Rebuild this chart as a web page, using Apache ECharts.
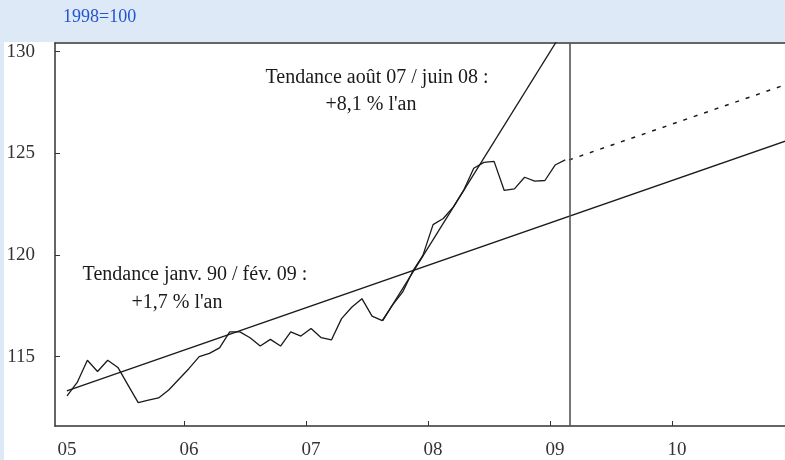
<!DOCTYPE html>
<html>
<head>
<meta charset="utf-8">
<script src="https://cdn.jsdelivr.net/npm/echarts@6/dist/echarts.min.js"></script>
<style>
  html, body { margin: 0; padding: 0; background: #dde9f7; }
  #panel { position: absolute; left: 4px; top: 42px; width: 781px; height: 418px; background: #fff; }
  #chart { position: absolute; left: 0; top: 0; width: 785px; height: 460px; }
</style>
</head>
<body>
<div id="panel"></div>
<div id="chart"></div>
<script>
// indice mensuel, base 1998=100
const months = [
  '2005-01', '2005-02', '2005-03', '2005-04', '2005-05', '2005-06',
  '2005-07', '2005-08', '2005-09', '2005-10', '2005-11', '2005-12',
  '2006-01', '2006-02', '2006-03', '2006-04', '2006-05', '2006-06',
  '2006-07', '2006-08', '2006-09', '2006-10', '2006-11', '2006-12',
  '2007-01', '2007-02', '2007-03', '2007-04', '2007-05', '2007-06',
  '2007-07', '2007-08', '2007-09', '2007-10', '2007-11', '2007-12',
  '2008-01', '2008-02', '2008-03', '2008-04', '2008-05', '2008-06',
  '2008-07', '2008-08', '2008-09', '2008-10', '2008-11', '2008-12',
  '2009-01', '2009-02'
];
const indexValues = [
  113.07, 113.73, 114.82, 114.27, 114.82, 114.47,
  113.60, 112.74, 112.86, 112.97, 113.36, 113.89,
  114.42, 115.00, 115.16, 115.43, 116.22, 116.22,
  115.93, 115.52, 115.85, 115.52, 116.22, 116.01,
  116.38, 115.93, 115.82, 116.87, 117.43, 117.85,
  116.99, 116.77, 117.53, 118.17, 119.20, 119.98,
  121.49, 121.79, 122.36, 123.17, 124.26, 124.55,
  124.60, 123.17, 123.25, 123.82, 123.63, 123.66,
  124.42, 124.67
];
// tendances (annee decimale, valeur)
const trendLong = [[2005.04, 113.32], [2010.93, 125.60]];
const trendShort = [[2007.629, 116.77], [2009.10, 130.95]];
const projection = [[2009.156, 124.67], [2010.93, 128.37]];
const cutDate = 2009.156;

const xLabels = [2005, 2006, 2007, 2008, 2009, 2010];
const xTicks = [2006, 2007, 2008, 2009, 2010];
const yTicks = [115, 120, 125, 130];

const toYear = s => {
  const [y, m] = s.split('-').map(Number);
  return y + (m - 0.5) / 12;
};
const seriesData = months.map((m, i) => [toYear(m), indexValues[i]]);

const font = '"Liberation Serif", "DejaVu Serif", serif';
const ink = '#1a1a1a';

const chart = echarts.init(document.getElementById('chart'));
chart.setOption({
  animation: false,
  backgroundColor: 'transparent',
  textStyle: { fontFamily: font },
  grid: { left: 55, top: 43, right: 0, bottom: 31 },
  xAxis: [
    {
      type: 'value',
      min: 2004.943,
      max: 2010.926,
      axisLine: { lineStyle: { color: '#333', width: 1.5 } },
      axisTick: { inside: true, length: 5, customValues: xTicks, lineStyle: { color: '#333' } },
      axisLabel: {
        customValues: xLabels,
        margin: 15,
        padding: [0, 0, 0, 10],
        color: '#333',
        fontSize: 19,
        fontFamily: font,
        formatter: v => String(v).slice(2)
      },
      splitLine: { show: false }
    },
    {
      type: 'value',
      position: 'top',
      min: 2004.943,
      max: 2010.926,
      axisLine: { show: true, lineStyle: { color: '#333', width: 1.5 } },
      axisTick: { show: false },
      axisLabel: { show: false },
      splitLine: { show: false }
    }
  ],
  yAxis: {
    type: 'value',
    min: 111.59,
    max: 130.42,
    axisLine: { show: true, lineStyle: { color: '#333', width: 1.5 } },
    axisTick: { show: true, inside: true, length: 5, customValues: yTicks, lineStyle: { color: '#333' } },
    axisLabel: { customValues: yTicks, margin: 20, color: '#333', fontSize: 19, fontFamily: font },
    splitLine: { show: false }
  },
  graphic: [
    { type: 'text', left: 63, top: 8, style: { text: '1998=100', fill: '#2255cc', font: '18px ' + font } },
    { type: 'text', x: 377, y: 78, style: { text: 'Tendance août 07 / juin 08 :', fill: ink, font: '20px ' + font, align: 'center', verticalAlign: 'middle' } },
    { type: 'text', x: 371, y: 105, style: { text: "+8,1 % l'an", fill: ink, font: '20px ' + font, align: 'center', verticalAlign: 'middle' } },
    { type: 'text', x: 195, y: 275, style: { text: 'Tendance janv. 90 / fév. 09 :', fill: ink, font: '20px ' + font, align: 'center', verticalAlign: 'middle' } },
    { type: 'text', x: 177, y: 303, style: { text: "+1,7 % l'an", fill: ink, font: '20px ' + font, align: 'center', verticalAlign: 'middle' } }
  ],
  series: [
    {
      name: 'Indice',
      type: 'line',
      data: seriesData,
      showSymbol: false,
      lineStyle: { color: ink, width: 1.3 },
      markLine: {
        silent: true,
        symbol: 'none',
        label: { show: false },
        lineStyle: { color: '#555', width: 1.6, type: 'solid' },
        data: [{ xAxis: cutDate }]
      }
    },
    {
      name: 'Tendance longue',
      type: 'line',
      data: trendLong,
      showSymbol: false,
      lineStyle: { color: ink, width: 1.3 }
    },
    {
      name: 'Tendance courte',
      type: 'line',
      data: trendShort,
      showSymbol: false,
      clip: true,
      lineStyle: { color: ink, width: 1.3 }
    },
    {
      name: 'Prolongement',
      type: 'line',
      data: projection,
      showSymbol: false,
      lineStyle: { color: ink, width: 1.5, type: [4, 7] }
    }
  ]
});
</script>
</body>
</html>
